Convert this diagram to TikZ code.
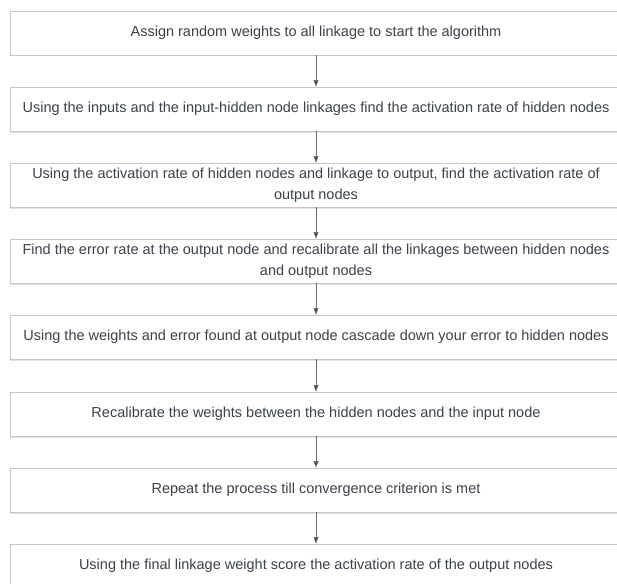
\documentclass[tikz,border=0pt]{standalone}
\usepackage{fontspec}
\setmainfont{Liberation Sans}
\usetikzlibrary{arrows.meta,shadows}
\definecolor{boxline}{HTML}{C6C6C6}
\definecolor{boxtext}{HTML}{3B424A}
\definecolor{linkline}{HTML}{6A6A6A}
\definecolor{linkhead}{HTML}{4A4A4A}
\begin{document}
\begin{tikzpicture}[x=1pt,y=-1pt,
  stepbox/.style={draw=boxline, line width=0.9pt, fill=white,
    minimum width=612pt, minimum height=44pt, inner sep=0pt,
    align=center, text=boxtext, font=\fontsize{14.5}{21}\selectfont,
    drop shadow={shadow xshift=0pt, shadow yshift=-1.5pt, opacity=0.18, fill=black!60}},
  link/.style={draw=linkline, line width=0.6pt,
    -{Triangle[length=6.5pt,width=5pt,fill=linkhead]}}]
\useasboundingbox[fill=white] (0,0) rectangle (617,583);
\node[stepbox] (s1) at (316,33)  {Assign random weights to all linkage to start the algorithm};
\node[stepbox] (s2) at (316,109) {Using the inputs and the input-hidden node linkages find the activation rate of hidden nodes};
\node[stepbox] (s3) at (316,185) {Using the activation rate of hidden nodes and linkage to output, find the activation rate of\\output nodes};
\node[stepbox] (s4) at (316,261) {Find the error rate at the output node and recalibrate all the linkages between hidden nodes\\and output nodes};
\node[stepbox] (s5) at (316,337) {Using the weights and error found at output node cascade down your error to hidden nodes};
\node[stepbox] (s6) at (316,414) {Recalibrate the weights between the hidden nodes and the input node};
\node[stepbox] (s7) at (316,490) {Repeat the process till convergence criterion is met};
\node[stepbox] (s8) at (316,566) {Using the final linkage weight score the activation rate of the output nodes};
\foreach \a/\b in {s1/s2,s2/s3,s3/s4,s4/s5,s5/s6,s6/s7,s7/s8}
  \draw[link] (\a.south) -- (\b.north);
\end{tikzpicture}
\end{document}
